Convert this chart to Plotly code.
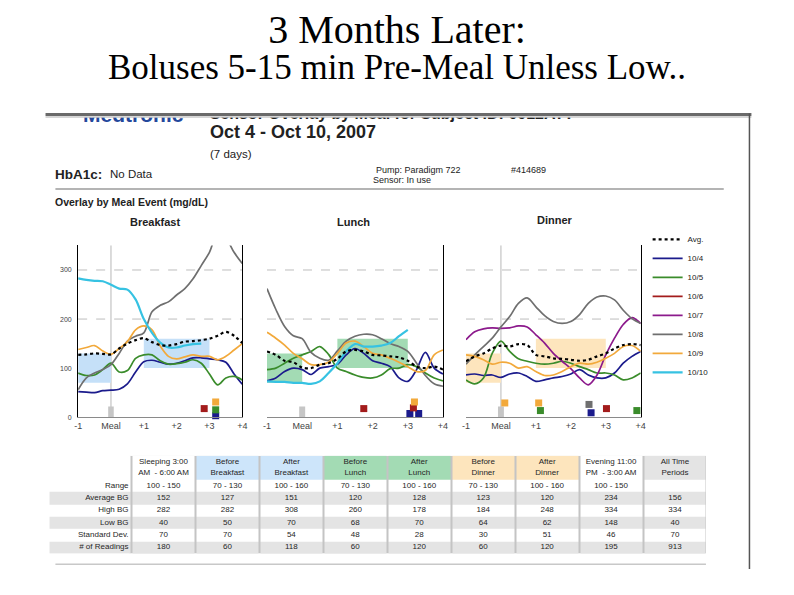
import plotly.graph_objects as go

W, H = 794, 595


def px(x):
    return x / W


def py(y):
    return 1 - y / H


FONT = "Liberation Sans, Arial, sans-serif"
SERIF = "Liberation Serif, Times New Roman, serif"

# ---------------- data ----------------
T = [-1.0, -0.75, -0.5, -0.25, 0.0, 0.25, 0.5, 0.75, 1.0, 1.25, 1.5, 1.75, 2.0,
     2.25, 2.5, 2.75, 3.0, 3.25, 3.5, 3.75, 4.0]
X_TICKVALS = [-1, 0, 1, 2, 3, 4]
X_TICKTEXT = ["-1", "Meal", "+1", "+2", "+3", "+4"]
Y_TICKVALS = [0, 100, 200, 300]
GRID_VALS = [200, 300]

SERIES = ["Avg.", "10/4", "10/5", "10/6", "10/7", "10/8", "10/9", "10/10"]
COLORS = ["#000000", "#1b1b8c", "#3a8c2b", "#a31c1c", "#8c1a8c", "#6f6f6f", "#f2a93b", "#36c2e2"]

# Breakfast
bk_avg = [127, 128, 130, 129, 128, 140, 150, 157, 161, 153, 147, 146, 149, 154, 155, 157, 160, 166, 174, 166, 151]
bk_104 = [52, 51, 50, 54, 55, 57, 68, 92, 113, 116, 112, 108, 110, 115, 121, 121, 119, 117, 112, 88, 67]
bk_105 = [90, 85, 86, 97, 110, 92, 95, 120, 127, 127, 115, 108, 109, 112, 117, 110, 88, 66, 80, 83, 76]
bk_108 = [56, 80, 90, 97, 107, 130, 155, 165, 172, 215, 228, 235, 249, 262, 282, 309, 336, 375, 365, 336, 313]
bk_109 = [138, 142, 146, 135, 128, 140, 154, 178, 186, 178, 145, 124, 119, 123, 127, 124, 124, 117, 124, 137, 150]
bk_1010 = [283, 280, 278, 277, 270, 262, 260, 240, 200, 172, 152, 142, 142, 146, 149, 150, None, None, None, None, None]

# Lunch
ln_avg = [134, 127, 115, 112, 101, 100, 107, 110, 119, 134, 137, 134, 127, 126, 124, 122, 115, 103, 100, 103, 97]
ln_104 = [74, 80, 93, 100, 97, 87, 100, 103, 108, 127, 140, 130, 115, 110, 103, 80, 73, 97, 132, 100, 88]
ln_105 = [97, 100, 110, 120, 127, 134, 144, 128, 100, 93, 86, 81, 80, 86, 99, 100, 107, 103, 90, 80, 74]
ln_108 = [262, 220, 185, 166, 160, 132, 120, 116, 135, 155, 165, 169, 168, 160, 150, 144, 134, 110, 85, 68, 63]
ln_109 = [173, 161, 147, 130, 119, 107, 107, 112, 130, 151, 155, 144, 130, 127, 120, 112, 103, 93, 95, 127, 137]
ln_1010 = [73, 72, 72, 70, 70, 68, 73, 90, 110, 134, 149, 144, 144, 146, 151, 165, 178, None, None, None, None]

# Dinner
dn_avg = [114, 124, 130, 140, 146, 144, 149, 147, 127, 124, 120, 119, 117, 115, 117, 124, 130, 140, 147, 149, 147]
dn_104 = [86, 88, 85, 86, 81, 88, 90, 83, 73, 76, 80, 83, 88, 97, 86, 80, 80, 90, 110, 124, 134]
dn_105 = [76, 68, 80, 130, 155, 134, 119, 114, 110, 108, 110, 114, 110, 103, 97, 90, 90, 86, 76, 80, 90]
dn_107 = [158, 174, 180, 182, 181, 182, 186, 184, 168, 151, 130, 114, 99, 80, 66, 86, 127, 161, 189, 203, 191]
dn_108 = [108, 127, 144, 161, 184, 205, 232, 243, 225, 207, 195, 191, 195, 209, 232, 245, 247, 239, 218, 201, 191]
dn_109 = [127, 124, 117, 108, 112, 110, 100, 103, 93, 85, 86, 93, 103, 110, 108, 112, 120, 130, 144, 146, 134]

# Bolus / event markers (time in hours from meal, level on the mg/dL scale, series)
bk_ev_t = [2.84, 3.19, 3.19, 3.19]
bk_ev_lvl = [17.5, 3, 15, 31]
bk_ev_s = ["10/6", "10/4", "10/5", "10/9"]
ln_ev_t = [1.75, 3.06, 3.31, 3.16, 3.19]
ln_ev_lvl = [17.5, 7.5, 7.5, 19, 31]
ln_ev_s = ["10/6", "10/4", "10/4", "10/6", "10/9"]
dn_ev_t = [0.11, 1.08, 1.13, 2.52, 2.58, 3.02, 3.89]
dn_ev_lvl = [29, 29, 13.5, 26, 9, 17.5, 13.5]
dn_ev_s = ["10/9", "10/9", "10/5", "10/8", "10/4", "10/6", "10/5"]

MEAL_T = 0
MEAL_MARK = 22

BEFORE_WINDOW = [-1, 0]
AFTER_WINDOW = [1, 3]
BEFORE_RANGE = [70, 130]
AFTER_RANGE = [100, 160]

# Table
TBL_HEADERS = ["", "Sleeping 3:00<br>AM  - 6:00 AM", "Before<br>Breakfast", "After<br>Breakfast",
               "Before<br>Lunch", "After<br>Lunch", "Before<br>Dinner", "After<br>Dinner",
               "Evening 11:00<br>PM  - 3:00 AM", "All Time<br>Periods"]
TBL_ROWS = ["Range", "Average BG", "High BG", "Low BG", "Standard Dev.", "# of Readings"]
col_sleep = ["100 - 150", 152, 282, 40, 70, 180]
col_bb = ["70 - 130", 127, 282, 50, 70, 60]
col_ab = ["100 - 160", 151, 308, 70, 54, 118]
col_bl = ["70 - 130", 120, 260, 68, 48, 60]
col_al = ["100 - 160", 128, 178, 70, 28, 120]
col_bd = ["70 - 130", 123, 184, 64, 30, 60]
col_ad = ["100 - 160", 120, 248, 62, 51, 120]
col_eve = ["100 - 150", 234, 334, 148, 46, 195]
col_all = ["", 156, 334, 40, 70, 913]

# ---------------- figure ----------------
cmap = dict(zip(SERIES, COLORS))
fig = go.Figure()

panels = [
    ("x", "y", {"10/4": bk_104, "10/5": bk_105, "10/8": bk_108, "10/9": bk_109,
                "10/10": bk_1010, "Avg.": bk_avg},
     (bk_ev_t, bk_ev_lvl, bk_ev_s), "#c5e0f8", True),
    ("x2", "y2", {"10/4": ln_104, "10/5": ln_105, "10/8": ln_108, "10/9": ln_109,
                  "10/10": ln_1010, "Avg.": ln_avg},
     (ln_ev_t, ln_ev_lvl, ln_ev_s), "#a3dbb4", False),
    ("x3", "y3", {"10/4": dn_104, "10/5": dn_105, "10/7": dn_107, "10/8": dn_108,
                  "10/9": dn_109, "Avg.": dn_avg},
     (dn_ev_t, dn_ev_lvl, dn_ev_s), "#fde5bd", True),
]

legend_done = set()
shapes = []
for xa, ya, data, events, fillc, meal_line in panels:
    for win, rng in ((BEFORE_WINDOW, BEFORE_RANGE), (AFTER_WINDOW, AFTER_RANGE)):
        shapes.append(dict(type="rect", xref=xa, yref=ya, x0=win[0], x1=win[1], y0=rng[0], y1=rng[1],
                           fillcolor=fillc, line=dict(width=0), layer="below"))
    for g in GRID_VALS:
        shapes.append(dict(type="line", xref=xa + " domain", yref=ya, x0=0, x1=1, y0=g, y1=g,
                           line=dict(color="#bdbdbd", width=1, dash="dash"), layer="below"))
    if meal_line:
        shapes.append(dict(type="line", xref=xa, yref=ya + " domain", x0=MEAL_T, x1=MEAL_T, y0=0, y1=1,
                           line=dict(color="#b8b8b8", width=1), layer="below"))
    fig.add_trace(go.Bar(x=[MEAL_T], y=[MEAL_MARK], width=0.17,
                         marker=dict(color="#c6c6c6", line=dict(width=0)),
                         xaxis=xa, yaxis=ya, showlegend=False, hoverinfo="skip"))
    for name in SERIES:
        if name not in data or name == "Avg.":
            continue
        fig.add_trace(go.Scatter(x=T, y=data[name], mode="lines", name=name,
                                 line=dict(color=cmap[name], width=2.2 if name == "10/10" else 1.7,
                                           shape="spline", smoothing=0.9),
                                 xaxis=xa, yaxis=ya, legendgroup=name,
                                 showlegend=name not in legend_done, legendrank=SERIES.index(name) + 1,
                                 hoverinfo="skip"))
        legend_done.add(name)
    fig.add_trace(go.Scatter(x=T, y=data["Avg."], mode="lines", name="Avg.",
                             line=dict(color="#000000", width=2.2, dash="dot", shape="spline", smoothing=0.9),
                             xaxis=xa, yaxis=ya, legendgroup="Avg.", showlegend="Avg." not in legend_done,
                             legendrank=0, hoverinfo="skip"))
    legend_done.add("Avg.")
    et, el, es = events
    fig.add_trace(go.Scatter(x=et, y=el, mode="markers",
                             marker=dict(symbol="square", size=7, color=[cmap[s] for s in es], line=dict(width=0)),
                             xaxis=xa, yaxis=ya, showlegend=False, hoverinfo="skip", cliponaxis=False))

for name in SERIES:
    if name not in legend_done:
        fig.add_trace(go.Scatter(x=[None], y=[None], mode="lines", name=name,
                                 line=dict(color=cmap[name], width=1.7), xaxis="x", yaxis="y",
                                 legendrank=SERIES.index(name) + 1))

# clipped report header text (top hidden by the report border)
fig.add_trace(go.Scatter(x=[80, 208], y=[117, 115.5], mode="text",
                         text=["<b>Medtronic</b>", "<b>Sensor Overlay by Meal for Subject ID: 0012ATT</b>"],
                         textposition="middle right",
                         textfont=dict(size=[21, 16], color=["#24489c", "#222222"], family=FONT),
                         xaxis="x4", yaxis="y4", showlegend=False, hoverinfo="skip", cliponaxis=True))

# ---------- statistics table (heatmap cells + text) ----------
COLW = [84] + [64.67] * 9
HDR_H = 24
ROW_H = 12.4
x_edges = [0]
for w in COLW:
    x_edges.append(x_edges[-1] + w)
y_edges = [0, HDR_H] + [HDR_H + ROW_H * (k + 1) for k in range(len(TBL_ROWS))]
x_cent = [(a + b) / 2 for a, b in zip(x_edges[:-1], x_edges[1:])]
y_cent = [(a + b) / 2 for a, b in zip(y_edges[:-1], y_edges[1:])]
TBL_W, TBL_H = x_edges[-1], y_edges[-1]
TBL_TOP, TBL_LEFT = 458, 45

hdr_codes = [0, 0, 2, 2, 3, 3, 4, 4, 0, 1]
row_codes = [0, 1, 0, 1, 0, 1]
zc = [hdr_codes] + [[c] * 10 for c in row_codes]
fig.add_trace(go.Heatmap(
    x=x_edges, y=y_edges, z=zc, zmin=0, zmax=4, showscale=False, xgap=2, ygap=0,
    colorscale=[[0, "#ffffff"], [0.25, "#e4e4e4"], [0.5, "#cde5fa"], [0.75, "#a3dbb4"], [1, "#fde5bd"]],
    xaxis="x5", yaxis="y5", hoverinfo="skip"))
shapes.append(dict(type="rect", xref="x5", yref="y5", x0=x_edges[1] - 2, x1=TBL_W - 1, y0=0, y1=TBL_H,
                   fillcolor="#c4c4c4", line=dict(width=0), layer="below"))

cols = [col_sleep, col_bb, col_ab, col_bl, col_al, col_bd, col_ad, col_eve, col_all]
tx, ty, tt = [], [], []
for ci, col in enumerate(cols):
    tx.append(x_cent[ci + 1]); ty.append(y_cent[0]); tt.append(TBL_HEADERS[ci + 1])
    for ri, v in enumerate(col):
        tx.append(x_cent[ci + 1]); ty.append(y_cent[ri + 1]); tt.append(str(v))
fig.add_trace(go.Scatter(x=tx, y=ty, text=tt, mode="text", textposition="middle center",
                         textfont=dict(size=8, family=FONT, color="#262626"),
                         xaxis="x5", yaxis="y5", showlegend=False, hoverinfo="skip", cliponaxis=False))
fig.add_trace(go.Scatter(x=[x_edges[1] - 3] * len(TBL_ROWS), y=y_cent[1:], text=TBL_ROWS, mode="text",
                         textposition="middle left", textfont=dict(size=8, family=FONT, color="#262626"),
                         xaxis="x5", yaxis="y5", showlegend=False, hoverinfo="skip", cliponaxis=False))

# report decorations
shapes += [
    dict(type="line", xref="paper", yref="paper", x0=px(42), x1=px(756), y0=py(115), y1=py(115),
         line=dict(color="#6a6a6a", width=3)),
    dict(type="line", xref="paper", yref="paper", x0=px(42), x1=px(756), y0=py(117.5), y1=py(117.5),
         line=dict(color="#c8c8c8", width=1.5)),
    dict(type="line", xref="paper", yref="paper", x0=px(754), x1=px(754), y0=py(114), y1=py(572),
         line=dict(color="#555555", width=1.5)),
    dict(type="line", xref="paper", yref="paper", x0=px(52), x1=px(728), y0=py(190), y1=py(190),
         line=dict(color="#b4b4b4", width=2)),
    dict(type="line", xref="paper", yref="paper", x0=px(52), x1=px(710), y0=py(567), y1=py(567),
         line=dict(color="#c8c8c8", width=1.5)),
]


def ann(x, y, text, size, bold=False, color="#222", anchor="left", family=FONT):
    return dict(x=px(x), y=py(y), xref="paper", yref="paper", text=("<b>%s</b>" % text) if bold else text,
                showarrow=False, xanchor=anchor, yanchor="middle",
                font=dict(size=size, color=color, family=family))


TITLE_1 = "3 Months Later:"
TITLE_2 = "Boluses 5-15 min Pre-Meal Unless Low.."
title_text = ("<span style='font-size:40px'>%s</span><br><span style='font-size:35px'>%s</span>"
              % (TITLE_1, TITLE_2))

annotations = [
    dict(x=px(397), y=py(5), xref="paper", yref="paper", text=title_text, showarrow=False,
         xanchor="center", yanchor="top", align="center",
         font=dict(size=28, color="#000", family=SERIF)),
    ann(206, 133, "Oct 4 - Oct 10, 2007", 18, bold=True),
    ann(206, 155, "(7 days)", 11.5),
    ann(50, 175, "HbA1c:", 13.5, bold=True),
    ann(105, 175, "No Data", 11.5),
    ann(374, 171, "Pump: Paradigm 722", 9),
    ann(511, 171, "#414689", 9),
    ann(371, 181, "Sensor: In use", 9),
    ann(50, 203, "Overlay by Meal Event (mg/dL)", 10.5, bold=True),
    ann(153, 223, "Breakfast", 11, bold=True, anchor="center"),
    ann(354, 223, "Lunch", 11, bold=True, anchor="center"),
    ann(557, 221, "Dinner", 11, bold=True, anchor="center"),
]

ydom = [py(419.3), py(246.7)]
xcommon = dict(range=[-1, 4], tickvals=X_TICKVALS, ticktext=X_TICKTEXT, showgrid=False, zeroline=False,
               showline=True, linecolor="#8a8a8a", linewidth=1, ticks="",
               tickfont=dict(size=9, family=FONT, color="#444"), fixedrange=True)
ycommon = dict(range=[0, 350], domain=ydom, showgrid=False, zeroline=False, showline=True,
               linecolor="#000", linewidth=1, ticks="", fixedrange=True)

fig.update_layout(
    width=W, height=H, margin=dict(l=0, r=0, t=0, b=0),
    paper_bgcolor="white", plot_bgcolor="rgba(0,0,0,0)",
    showlegend=True, barmode="overlay",
    legend=dict(x=px(651), y=py(226), xanchor="left", yanchor="top", bgcolor="rgba(0,0,0,0)",
                font=dict(size=8, family=FONT, color="#222"), itemwidth=30, tracegroupgap=0,
                traceorder="normal"),
    xaxis=dict(domain=[px(75), px(241)], anchor="y", **xcommon),
    yaxis=dict(anchor="x", mirror=True, tickvals=Y_TICKVALS, ticklabelstandoff=4,
               tickfont=dict(size=7, family=FONT, color="#444"), **ycommon),
    xaxis2=dict(domain=[px(266), px(444)], anchor="y2", **xcommon),
    yaxis2=dict(anchor="x2", side="right", showticklabels=False, **ycommon),
    xaxis3=dict(domain=[px(467.3), px(644)], anchor="y3", **xcommon),
    yaxis3=dict(anchor="x3", side="right", showticklabels=False, **ycommon),
    xaxis4=dict(domain=[0, 1], range=[0, W], visible=False, anchor="y4", fixedrange=True),
    yaxis4=dict(domain=[py(140), py(117.5)], range=[140, 117.5], visible=False, anchor="x4", fixedrange=True),
    xaxis5=dict(domain=[px(TBL_LEFT), px(TBL_LEFT + TBL_W)], range=[0, TBL_W], visible=False, anchor="y5",
                fixedrange=True),
    yaxis5=dict(domain=[py(TBL_TOP + TBL_H), py(TBL_TOP)], range=[TBL_H, 0], visible=False, anchor="x5",
                fixedrange=True),
    shapes=shapes, annotations=annotations,
    font=dict(family=FONT),
)

fig.write_html("out.html", config={"displayModeBar": False},
               post_script="document.body.style.margin='0px';document.body.style.overflow='hidden';")
